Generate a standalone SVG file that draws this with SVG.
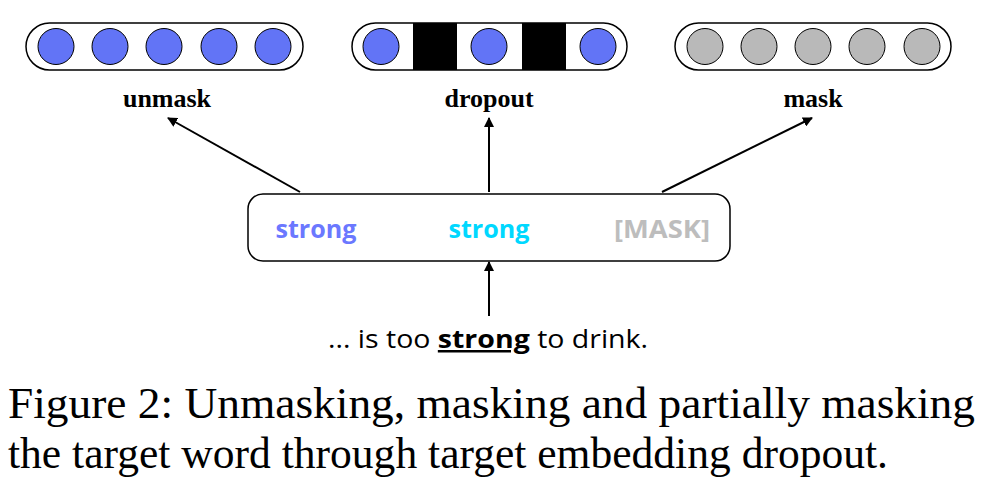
<svg xmlns="http://www.w3.org/2000/svg" width="998" height="490" viewBox="0 0 998 490">
<style>
.pill{fill:#fff;stroke:#000;stroke-width:1.5}
.blue{fill:#6274f6;stroke:#000;stroke-width:1}
.gray{fill:#b9b9b9;stroke:#000;stroke-width:1}
.lbl{font-family:"Liberation Serif",serif;font-weight:bold;font-size:26px;text-anchor:middle}
.cal{font-family:"Open Sans","Noto Sans",sans-serif;font-size:25px;text-anchor:middle}
.conn{stroke:#000;stroke-width:2;fill:none;marker-end:url(#ah)}
.cap{font-family:"Liberation Serif",serif;font-size:44px}
</style>
<defs>
<marker id="ah" markerWidth="10" markerHeight="10" refX="9" refY="5" orient="auto" markerUnits="userSpaceOnUse">
<path d="M0,0 L10,5 L0,10 z" fill="#000"/>
</marker>
</defs>
<g id="unmask">
<rect class="pill" x="26" y="23" width="277" height="47" rx="23.5"/>
<circle class="blue" cx="56" cy="46.5" r="18"/>
<circle class="blue" cx="110" cy="46.5" r="18"/>
<circle class="blue" cx="164" cy="46.5" r="18"/>
<circle class="blue" cx="219" cy="46.5" r="18"/>
<circle class="blue" cx="273" cy="46.5" r="18"/>
<text class="lbl" x="167" y="107">unmask</text>
</g>
<g id="dropout">
<rect class="pill" x="352" y="23" width="275" height="47" rx="23.5"/>
<rect x="413" y="23" width="44" height="47" fill="#000"/>
<rect x="522" y="23" width="44" height="47" fill="#000"/>
<circle class="blue" cx="381" cy="46.5" r="18"/>
<circle class="blue" cx="489" cy="46.5" r="18"/>
<circle class="blue" cx="598" cy="46.5" r="18"/>
<text class="lbl" x="489" y="107">dropout</text>
</g>
<g id="mask">
<rect class="pill" x="675" y="23" width="276" height="47" rx="23.5"/>
<circle class="gray" cx="705" cy="46.5" r="18"/>
<circle class="gray" cx="759" cy="46.5" r="18"/>
<circle class="gray" cx="813" cy="46.5" r="18"/>
<circle class="gray" cx="867" cy="46.5" r="18"/>
<circle class="gray" cx="922" cy="46.5" r="18"/>
<text class="lbl" x="813" y="107">mask</text>
</g>
<g id="embedding">
<rect x="248" y="194" width="482" height="67" rx="15" fill="#fff" stroke="#000" stroke-width="1.5"/>
<text class="cal" x="316" y="238" font-weight="bold" fill="#6b78ff" textLength="81" lengthAdjust="spacingAndGlyphs">strong</text>
<text class="cal" x="489" y="238" font-weight="bold" fill="#00d8ff" textLength="81" lengthAdjust="spacingAndGlyphs">strong</text>
<text class="cal" x="662" y="238" font-weight="bold" fill="#bdbdbd" textLength="96" lengthAdjust="spacingAndGlyphs">[MASK]</text>
</g>
<g id="sentence">
<text class="cal" x="488" y="348" font-size="28" textLength="320" lengthAdjust="spacingAndGlyphs">... is too <tspan font-weight="bold" text-decoration="underline">strong</tspan> to drink.</text>
</g>
<g id="connectors">
<line class="conn" x1="300" y1="192" x2="168" y2="118"/>
<line class="conn" x1="489" y1="192" x2="489" y2="118"/>
<line class="conn" x1="662" y1="192" x2="812" y2="118"/>
<line class="conn" x1="489" y1="316" x2="489" y2="262"/>
</g>
<g id="caption">
<text class="cap" x="8" y="418" textLength="967" lengthAdjust="spacingAndGlyphs">Figure 2: Unmasking, masking and partially masking</text>
<text class="cap" x="8" y="468" textLength="880" lengthAdjust="spacingAndGlyphs">the target word through target embedding dropout.</text>
</g>
</svg>
